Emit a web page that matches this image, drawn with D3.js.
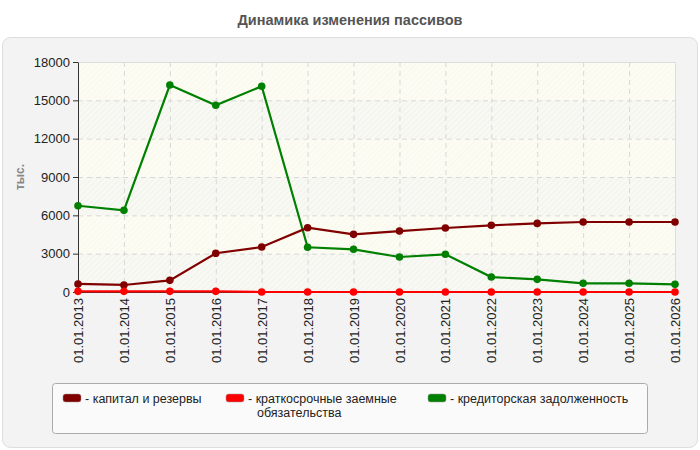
<!DOCTYPE html>
<html>
<head>
<meta charset="utf-8">
<script src="https://cdn.jsdelivr.net/npm/d3@7"></script>
<style>
  body { margin: 0; background: #fff; }
  svg { font-family: "Liberation Sans", Arial, sans-serif; }
</style>
</head>
<body>
<div id="chart"></div>
<script>
// Chart data
const years = ["01.01.2013", "01.01.2014", "01.01.2015", "01.01.2016", "01.01.2017", "01.01.2018", "01.01.2019",
    "01.01.2020", "01.01.2021", "01.01.2022", "01.01.2023", "01.01.2024", "01.01.2025", "01.01.2026"];
const capital = [630, 550, 910, 3030, 3520, 5030, 4510, 4770, 5010, 5220, 5370, 5480, 5480, 5480];
const shortLoans = [50, 50, 50, 50, 0, 0, 0, 0, 0, 0, 0, 0, 0, 0];
const payables = [6750, 6390, 16200, 14610, 16100, 3500, 3340, 2740, 2950, 1170, 990, 680, 680, 600];
const yTicks = [0, 3000, 6000, 9000, 12000, 15000, 18000];
const seriesNames = ["капитал и резервы", "краткосрочные заемные|обязательства", "кредиторская задолженность"];
const seriesColors = ["#800000", "#ff0000", "#008000"];

const W = 700, H = 450;
const margin = {top: 62, right: 25, bottom: 158, left: 78};
const width = W - margin.left - margin.right;
const height = H - margin.top - margin.bottom;

const svg = d3.select("#chart").append("svg")
    .attr("width", W)
    .attr("height", H);

const defs = svg.append("defs");
const hatch = (id, bg, line) => {
    const p = defs.append("pattern").attr("id", id)
        .attr("patternUnits", "userSpaceOnUse").attr("width", 4).attr("height", 4)
        .attr("patternTransform", "rotate(45)");
    p.append("rect").attr("width", 4).attr("height", 4).attr("fill", bg);
    p.append("line").attr("x1", 0).attr("y1", 0).attr("x2", 0).attr("y2", 4)
        .attr("stroke", line).attr("stroke-width", 1);
};
hatch("hatchLight", "#fcfcf3", "#f4f4ea");
hatch("hatchGrey", "#f9f9f4", "#e9e9e6");

// title
svg.append("text")
    .attr("x", W / 2).attr("y", 25)
    .attr("text-anchor", "middle")
    .attr("font-size", 14.5).attr("font-weight", "bold")
    .attr("fill", "#555")
    .text("Динамика изменения пассивов");

// panel
svg.append("rect")
    .attr("x", 2.5).attr("y", 37.5).attr("width", 695).attr("height", 410)
    .attr("rx", 8)
    .attr("fill", "#f3f3f3").attr("stroke", "#ddd");

const g = svg.append("g").attr("transform", `translate(${margin.left},${margin.top})`);

const x = d3.scalePoint().domain(years).range([0, width]);
const y = d3.scaleLinear().domain([0, 18000]).range([height, 0]);

// plot background with alternating bands
g.append("rect").attr("width", width).attr("height", height).attr("fill", "url(#hatchLight)");
g.selectAll("rect.band")
    .data(d3.pairs(yTicks).filter((d, i) => i % 2 === 0))
    .join("rect").attr("class", "band")
    .attr("x", 0).attr("width", width)
    .attr("y", d => y(d[1])).attr("height", d => y(d[0]) - y(d[1]))
    .attr("fill", "url(#hatchGrey)");

// grid
g.selectAll("line.hgrid")
    .data(yTicks.slice(1, -1))
    .join("line").attr("class", "hgrid")
    .attr("x1", 0).attr("x2", width)
    .attr("y1", d => y(d) + 0.5).attr("y2", d => y(d) + 0.5)
    .attr("stroke", "#d8d8d8").attr("stroke-dasharray", "5,4");
g.selectAll("line.vgrid")
    .data(years.slice(1, -1))
    .join("line").attr("class", "vgrid")
    .attr("x1", d => x(d) + 0.5).attr("x2", d => x(d) + 0.5)
    .attr("y1", 0).attr("y2", height)
    .attr("stroke", "#d8d8d8").attr("stroke-dasharray", "5,4");

// plot border (top / right)
g.append("path")
    .attr("d", `M0,0.5H${width + 0.5}V${height}`)
    .attr("fill", "none").attr("stroke", "#ddd");

// axes
const yAxis = g.append("g")
    .call(d3.axisLeft(y).tickValues(yTicks).tickSize(5).tickSizeOuter(0).tickFormat(d3.format("d")));
yAxis.select(".domain").attr("stroke", "#333");
yAxis.selectAll(".tick line").attr("stroke", "#333");
yAxis.selectAll("text").attr("font-size", 13).attr("fill", "#222")
    .attr("font-family", "Liberation Sans, Arial, sans-serif");

const xAxis = g.append("g").attr("transform", `translate(0,${height})`)
    .call(d3.axisBottom(x).tickSize(0).tickPadding(6));
xAxis.select(".domain").attr("stroke", "#333");
xAxis.selectAll("text")
    .attr("font-size", 13).attr("fill", "#222")
    .attr("font-family", "Liberation Sans, Arial, sans-serif")
    .attr("transform", "rotate(-90)")
    .attr("text-anchor", "end")
    .attr("x", -6).attr("y", 0).attr("dy", "0.35em");

// y title
svg.append("text")
    .attr("transform", `translate(24,${margin.top + height / 2}) rotate(-90)`)
    .attr("text-anchor", "middle")
    .attr("font-size", 12).attr("font-weight", "bold")
    .attr("fill", "#888")
    .text("тыс.");

// series
const series = [capital, shortLoans, payables];
const line = d3.line().x((d, i) => x(years[i])).y(d => y(d));
[2, 0, 1].forEach(k => {
    const s = g.append("g");
    s.append("path").datum(series[k])
        .attr("fill", "none").attr("stroke", seriesColors[k]).attr("stroke-width", 2.2)
        .attr("d", line);
    s.selectAll("circle").data(series[k]).join("circle")
        .attr("cx", (d, i) => x(years[i])).attr("cy", d => y(d)).attr("r", 3.8)
        .attr("fill", seriesColors[k]);
});

// legend
const lg = svg.append("g");
lg.append("rect")
    .attr("x", 52.5).attr("y", 383.5).attr("width", 595).attr("height", 50)
    .attr("rx", 3).attr("fill", "#fafafa").attr("stroke", "#aaa");
const legendX = [63, 226, 428];
seriesNames.forEach((name, k) => {
    const item = lg.append("g").attr("transform", `translate(${legendX[k]},394)`);
    item.append("rect").attr("width", 18).attr("height", 8).attr("rx", 2.5)
        .attr("fill", seriesColors[k]).attr("stroke", "#999").attr("stroke-width", 0.5);
    const parts = name.split("|");
    const t = item.append("text").attr("font-size", 12.5).attr("fill", "#222")
        .attr("x", 22).attr("y", 8.5);
    t.text("- " + parts[0]);
    if (parts[1]) {
        item.append("text").attr("font-size", 12.5).attr("fill", "#222")
            .attr("x", 31).attr("y", 23).text(parts[1]);
    }
});
</script>
</body>
</html>
